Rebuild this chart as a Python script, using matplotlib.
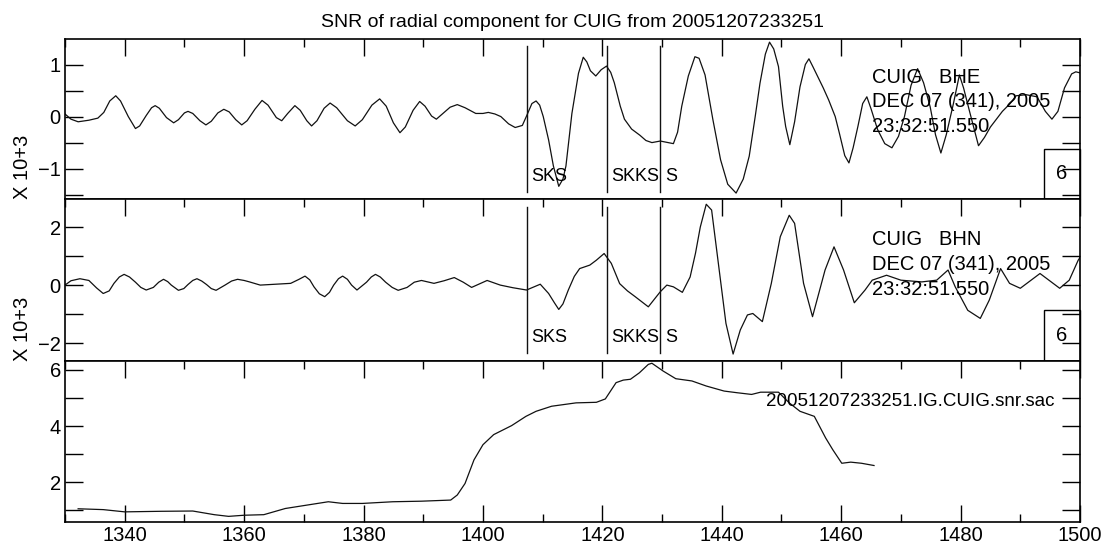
import matplotlib
matplotlib.use("Agg")
import matplotlib.pyplot as plt
from matplotlib.patches import Rectangle
from matplotlib.ticker import MultipleLocator

plt.rcParams['font.family'] = ['Liberation Sans', 'DejaVu Sans']

# ---- data ----
title = "SNR of radial component for CUIG from 20051207233251"
ylabel = "X 10+3"

# BHE trace (x 10^3)
bhe_t = [1330.0, 1331.0, 1332.2, 1334.0, 1335.5, 1336.5, 1337.5, 1338.5, 1339.3, 1340.6,
         1341.8, 1342.5, 1343.6, 1344.5, 1345.1, 1345.8, 1347.0, 1348.2, 1349.0, 1350.0,
         1350.6, 1351.4, 1352.6, 1353.6, 1354.5, 1355.6, 1356.6, 1357.5, 1358.6, 1359.6,
         1360.5, 1361.8, 1363.0, 1364.0, 1365.4, 1366.3, 1367.3, 1368.5, 1369.4, 1370.5,
         1371.3, 1372.2, 1373.4, 1374.4, 1375.5, 1377.3, 1378.6, 1379.8, 1381.4, 1382.7,
         1383.8, 1385.0, 1386.1, 1387.0, 1388.3, 1389.4, 1390.3, 1391.4, 1392.2, 1393.2,
         1394.5, 1395.7, 1397.0, 1398.8, 1400.0, 1400.9, 1402.0, 1403.0, 1404.3, 1405.4,
         1406.6, 1407.3, 1408.2, 1408.9, 1409.5, 1410.1, 1411.0, 1411.8, 1412.7, 1413.4,
         1413.9, 1414.9, 1416.0, 1416.8, 1417.4, 1418.0, 1418.9, 1419.8, 1420.7, 1421.4,
         1422.0, 1423.0, 1423.7, 1424.9, 1426.3, 1427.3, 1428.3, 1429.7, 1431.0, 1431.9,
         1432.6, 1433.3, 1434.4, 1435.5, 1436.2, 1437.2, 1438.5, 1439.8, 1441.0, 1442.4,
         1443.6, 1444.6, 1445.6, 1446.4, 1447.3, 1448.0, 1448.7, 1449.5, 1450.2, 1450.7,
         1451.4, 1452.2, 1453.1, 1454.0, 1454.6, 1455.3, 1456.1, 1457.0, 1457.9, 1459.0,
         1459.7, 1460.6, 1461.3, 1462.0, 1462.8, 1463.6, 1464.3, 1465.0, 1466.1, 1467.3,
         1468.5, 1469.6, 1470.6, 1471.7, 1472.8, 1473.8, 1474.9, 1475.8, 1476.7, 1477.6,
         1478.8, 1479.8, 1480.5, 1481.5, 1483.0, 1484.0, 1485.0, 1487.0, 1488.3, 1489.3,
         1491.0, 1492.8, 1494.2, 1495.3, 1496.3, 1497.4, 1498.6, 1499.3, 1500.0]
bhe_v = [0.05, -0.05, -0.10, -0.07, -0.03, 0.08, 0.30, 0.40, 0.30, 0.00,
         -0.23, -0.18, 0.02, 0.17, 0.21, 0.16, -0.02, -0.12, -0.06, 0.07,
         0.10, 0.06, -0.08, -0.16, -0.09, 0.07, 0.14, 0.09, -0.06, -0.16,
         -0.08, 0.14, 0.31, 0.22, -0.02, -0.08, 0.06, 0.21, 0.12, -0.08,
         -0.18, -0.08, 0.16, 0.26, 0.17, -0.08, -0.18, -0.06, 0.22, 0.34,
         0.20, -0.12, -0.31, -0.20, 0.12, 0.29, 0.20, 0.01, -0.05, 0.05,
         0.18, 0.23, 0.17, 0.06, 0.06, 0.08, 0.05, 0.00, -0.14, -0.21,
         -0.17, 0.01, 0.25, 0.30, 0.22, 0.00, -0.45, -0.95, -1.34, -1.20,
         -0.95, 0.06, 0.83, 1.14, 1.05, 0.88, 0.78, 0.90, 0.97, 0.85,
         0.65, 0.20, -0.05, -0.24, -0.36, -0.46, -0.50, -0.47, -0.50, -0.52,
         -0.30, 0.20, 0.78, 1.15, 1.12, 0.80, -0.05, -0.83, -1.30, -1.47,
         -1.20, -0.76, 0.00, 0.64, 1.20, 1.43, 1.30, 0.96, 0.20, -0.19,
         -0.54, -0.10, 0.57, 1.00, 1.11, 0.95, 0.76, 0.55, 0.32, 0.00,
         -0.32, -0.75, -0.89, -0.60, -0.19, 0.25, 0.38, 0.15, -0.25, -0.52,
         -0.60, -0.38, 0.00, 0.60, 0.92, 0.65, 0.19, -0.35, -0.70, -0.35,
         0.25, 0.80, 0.55, 0.10, -0.56, -0.40, -0.20, 0.10, 0.25, 0.40,
         0.42, 0.38, 0.10, -0.05, 0.10, 0.55, 0.82, 0.86, 0.84]

# BHN trace (x 10^3)
bhn_t = [1330.0, 1331.0, 1332.5, 1334.0, 1335.3, 1336.4, 1337.4, 1338.2, 1339.1, 1339.9,
         1340.8, 1341.8, 1342.7, 1343.6, 1344.8, 1345.7, 1346.5, 1347.2, 1347.8, 1349.0,
         1349.9, 1350.6, 1351.4, 1352.1, 1352.9, 1353.7, 1354.5, 1355.3, 1356.8, 1357.9,
         1358.9, 1360.0, 1360.9, 1362.7, 1364.5, 1367.8, 1369.2, 1370.2, 1371.0, 1371.7,
         1372.6, 1373.5, 1374.3, 1375.0, 1375.8, 1376.5, 1377.3, 1378.0, 1378.9, 1380.5,
         1381.3, 1382.0, 1382.8, 1383.7, 1384.8, 1385.8, 1387.3, 1388.5, 1389.7, 1391.8,
         1393.5, 1395.2, 1396.7, 1398.1, 1399.5, 1400.7, 1402.9, 1405.0, 1407.3, 1409.6,
         1411.0, 1412.0, 1412.7, 1413.4, 1414.3, 1415.3, 1416.2, 1417.9, 1419.0, 1420.3,
         1421.5, 1422.9, 1424.2, 1425.5, 1427.7, 1429.7, 1430.8, 1431.9, 1433.4, 1434.7,
         1435.6, 1436.4, 1437.4, 1438.3, 1439.5, 1440.7, 1441.9, 1443.1, 1444.3, 1445.2,
         1446.8, 1448.3, 1449.8, 1451.3, 1452.2, 1453.7, 1455.2, 1457.3, 1458.8, 1460.4,
         1462.2, 1464.0, 1465.2, 1467.6, 1470.0, 1473.5, 1476.0, 1477.9, 1479.1, 1481.2,
         1483.3, 1484.8, 1486.7, 1488.2, 1490.0, 1493.3, 1494.8, 1496.6, 1498.2, 1499.7,
         1500.0]
bhn_v = [0.00, 0.15, 0.22, 0.16, -0.10, -0.29, -0.20, 0.06, 0.28, 0.37,
         0.28, 0.10, -0.08, -0.17, -0.08, 0.10, 0.20, 0.12, 0.00, -0.18,
         -0.12, 0.02, 0.16, 0.22, 0.14, 0.02, -0.12, -0.18, 0.00, 0.14,
         0.20, 0.16, 0.11, 0.00, 0.02, 0.06, 0.20, 0.31, 0.18, -0.06,
         -0.30, -0.40, -0.25, 0.00, 0.22, 0.31, 0.20, 0.00, -0.17, 0.10,
         0.28, 0.37, 0.28, 0.10, -0.08, -0.18, -0.08, 0.10, 0.16, 0.06,
         0.15, 0.26, 0.10, -0.08, 0.05, 0.16, 0.00, -0.09, -0.17, 0.03,
         -0.29, -0.62, -0.84, -0.65, -0.17, 0.30, 0.57, 0.69, 0.86, 1.09,
         0.75, 0.05, -0.20, -0.40, -0.75, -0.23, 0.00, -0.06, -0.25, 0.28,
         1.10, 2.00, 2.79, 2.59, 0.63, -1.32, -2.38, -1.55, -1.03, -0.98,
         -1.26, 0.06, 1.67, 2.41, 2.13, 0.06, -1.09, 0.52, 1.32, 0.52,
         -0.61, -0.17, 0.17, 0.34, 0.17, 0.11, 0.17, 0.52, -0.06, -0.87,
         -1.15, -0.52, 0.57, 0.06, -0.11, 0.40, 0.17, -0.11, 0.17, 0.86,
         0.95]

# SNR trace
snr_t = [1332.2, 1336.4, 1340.0, 1346.0, 1351.4, 1355.0, 1357.4, 1360.0, 1363.3, 1366.9,
         1371.1, 1374.1, 1376.5, 1379.8, 1384.9, 1389.7, 1394.6, 1395.7, 1397.0, 1398.5,
         1400.0, 1401.8, 1404.8, 1407.2, 1408.9, 1411.5, 1415.6, 1419.0, 1420.5, 1422.3,
         1423.5, 1424.7, 1426.2, 1427.7, 1428.3, 1430.2, 1432.3, 1435.0, 1437.4, 1440.4,
         1442.6, 1445.0, 1446.5, 1449.5, 1451.3, 1453.1, 1455.5, 1457.4, 1458.6, 1460.1,
         1461.6, 1463.4, 1465.5]
snr_v = [1.06, 1.03, 0.95, 0.97, 0.98, 0.85, 0.79, 0.83, 0.85, 1.07,
         1.21, 1.31, 1.25, 1.25, 1.31, 1.33, 1.37, 1.55, 1.96, 2.80,
         3.34, 3.70, 4.02, 4.35, 4.53, 4.71, 4.83, 4.85, 4.97, 5.55,
         5.64, 5.67, 5.90, 6.20, 6.24, 5.96, 5.69, 5.61, 5.43, 5.25,
         5.19, 5.13, 5.21, 5.21, 4.83, 4.53, 4.35, 3.58, 3.16, 2.68,
         2.72, 2.68, 2.60]

phase_names = ["SKS", "SKKS", "S"]
phase_times = [1407.3, 1420.7, 1429.7]

bhe_header = ["CUIG   BHE", "DEC 07 (341), 2005", "23:32:51.550"]
bhn_header = ["CUIG   BHN", "DEC 07 (341), 2005", "23:32:51.550"]
snr_name = "20051207233251.IG.CUIG.snr.sac"

fig = plt.figure(figsize=(11.07, 5.52), dpi=100)
L, W = 65 / 1107, 1015 / 1107
ax1 = fig.add_axes([L, 0.6389, W, 0.2904])
ax2 = fig.add_axes([L, 0.3460, W, 0.2929])
ax3 = fig.add_axes([L, 0.0549, W, 0.2911])

FS = 14.5
lc = "#111111"

def style(ax, ylim, ymaj, bottom_ticks):
    ax.set_xlim(1330, 1500)
    ax.set_ylim(*ylim)
    ax.xaxis.set_major_locator(MultipleLocator(20))
    ax.xaxis.set_minor_locator(MultipleLocator(10))
    ax.yaxis.set_major_locator(MultipleLocator(ymaj))
    ax.yaxis.set_minor_locator(MultipleLocator(ymaj / 2))
    ax.tick_params(axis='x', which='major', direction='in', length=12.5, width=1.0,
                   top=True, bottom=bottom_ticks, labelbottom=bottom_ticks,
                   labelsize=FS, pad=3, color='black')
    ax.tick_params(axis='x', which='minor', direction='in', length=6, width=1.0,
                   top=True, bottom=bottom_ticks, color='black')
    ax.tick_params(axis='y', which='both', direction='in', length=13, width=1.0,
                   left=True, right=True, labelsize=FS, pad=3, color='black')
    for s in ax.spines.values():
        s.set_linewidth(1.2)

style(ax1, (-1.59, 1.49), 1, False)
style(ax2, (-2.62, 2.96), 2, False)
style(ax3, (0.60, 6.32), 2, True)

ax1.plot(bhe_t, bhe_v, color=lc, lw=0.9)
ax2.plot(bhn_t, bhn_v, color=lc, lw=0.9)
ax3.plot(snr_t, snr_v, color=lc, lw=0.9)

for ax, header, y0 in [(ax1, bhe_header, 0.819), (ax2, bhn_header, 0.808)]:
    for name, t in zip(phase_names, phase_times):
        ax.axvline(t, ymin=0.047, ymax=0.955, color=lc, lw=1.0)
        ax.annotate(name, xy=(t, 0.115), xycoords=('data', 'axes fraction'),
                    xytext=(3.5, 0), textcoords='offset points', va='baseline',
                    ha='left', fontsize=13)
    for i, line in enumerate(header):
        ax.text(1465.2, y0 - i * 0.152, line, transform=ax.get_xaxis_transform(),
                ha='left', va='top', fontsize=FS)
    ax.add_patch(Rectangle((0.9645, 0), 0.0355, 0.314, transform=ax.transAxes,
                           fill=False, lw=1.0, ec='black', clip_on=False))
    ax.text(0.982, 0.16, "6", transform=ax.transAxes, ha='center', va='center',
            fontsize=FS)
    ax.text(-0.042, 0.0, ylabel, transform=ax.transAxes, rotation=90,
            ha='center', va='bottom', fontsize=FS)

ax3.text(1495.7, 0.80, snr_name, transform=ax3.get_xaxis_transform(),
         ha='right', va='top', fontsize=13.5)

ax1.set_title(title, fontsize=14, pad=9)

fig.savefig("out.png", dpi=100)
